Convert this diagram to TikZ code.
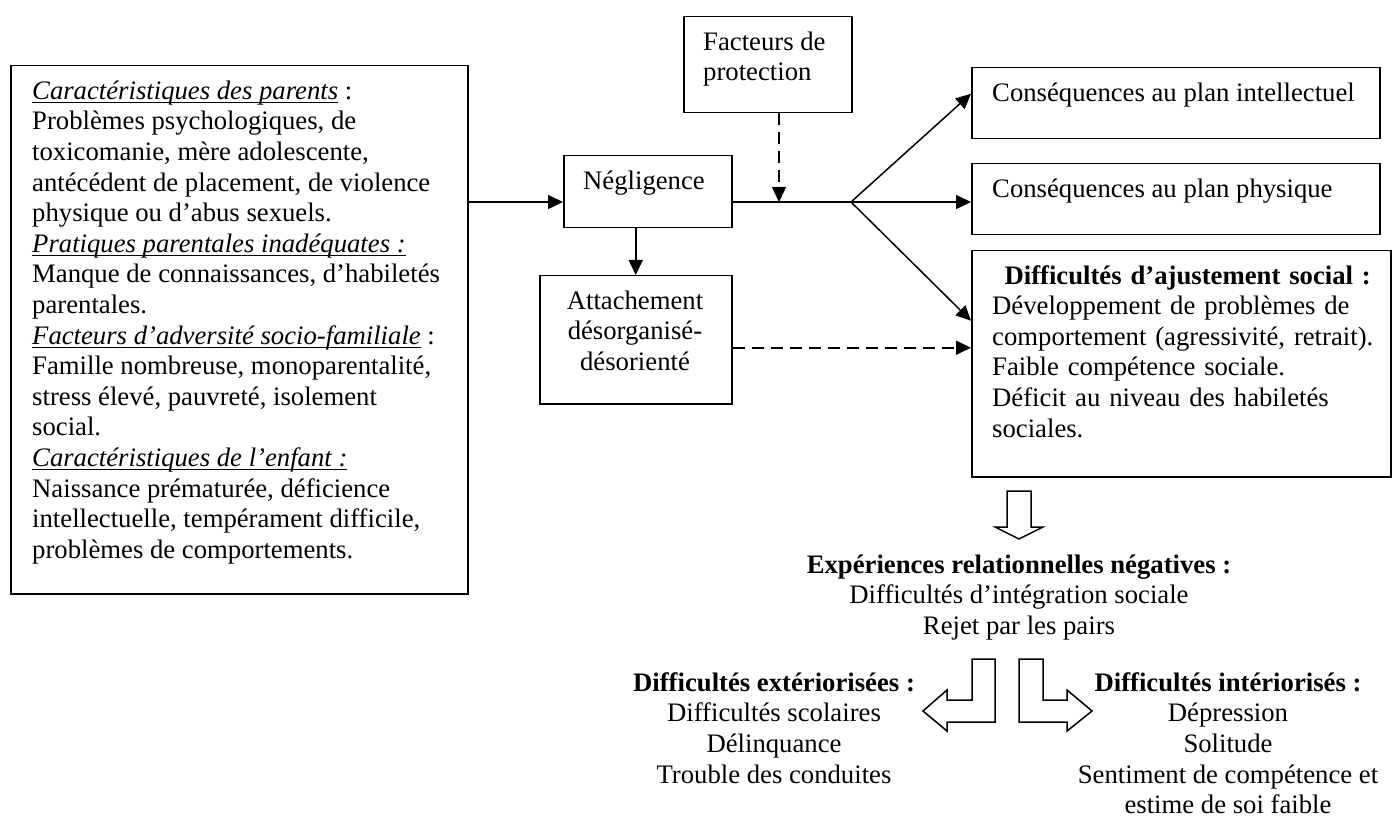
\documentclass[tikz,border=0pt]{standalone}
\usepackage{fontspec}
\setmainfont{Liberation Serif}
\usetikzlibrary{arrows.meta}
\newcommand{\fstrut}{\rule{0pt}{25pt}}
\newsavebox\ulbox
\newcommand{\uln}[1]{\sbox\ulbox{#1}\rlap{\rule[-4pt]{\wd\ulbox}{1.4pt}}\usebox\ulbox}
\begin{document}
\begin{tikzpicture}[x=1pt,y=-1pt,
  font=\fontsize{26.7}{30.6}\selectfont,
  box/.style={draw, line width=1.5pt, inner sep=0pt, anchor=north west},
  txt/.style={inner sep=0pt},
  arr/.style={line width=1.5pt, -{Triangle[length=15pt,width=14pt]}},
  darr/.style={arr, dash pattern=on 12pt off 7pt},
  hollow/.style={draw, line width=1.5pt, fill=white, line join=miter}
]
\useasboundingbox (0,0) rectangle (1392,818);
% boxes
\node[box, minimum width=457pt, minimum height=528pt] (L) at (10,65) {};
\node[box, minimum width=168pt, minimum height=96pt] (F) at (683,16) {};
\node[box, minimum width=168pt, minimum height=72pt] (N) at (563,155) {};
\node[box, minimum width=192pt, minimum height=128pt] (A) at (539,275) {};
\node[box, minimum width=408pt, minimum height=71pt] (C1) at (971,67) {};
\node[box, minimum width=408pt, minimum height=71pt] (C2) at (971,163) {};
\node[box, minimum width=419pt, minimum height=226pt] (S) at (971,250) {};
% texts
\node[txt, anchor=north west, align=left] (Lt) at (32,74) {\fstrut\uln{\textit{Caractéristiques des parents}} :\\
Problèmes psychologiques, de\\
toxicomanie, mère adolescente,\\
antécédent de placement, de violence\\
physique ou d’abus sexuels.\\
\uln{\textit{Pratiques parentales inadéquates :}}\\
Manque de connaissances, d’habiletés\\
parentales.\\
\uln{\textit{Facteurs d’adversité socio-familiale}} :\\
Famille nombreuse, monoparentalité,\\
stress élevé, pauvreté, isolement\\
social.\\
\uln{\textit{Caractéristiques de l’enfant :}}\\
Naissance prématurée, déficience\\
intellectuelle, tempérament difficile,\\
problèmes de comportements.};
\node[txt, anchor=north west, align=left] (Ft) at (703,25) {\fstrut Facteurs de\\protection};
\node[txt, anchor=north west, align=left] (Nt) at (583,164) {\fstrut Négligence};
\node[txt, anchor=north, align=center] (At) at (635,284) {\fstrut Attachement\\désorganisé-\\désorienté};
\node[txt, anchor=north west, align=left] (C1t) at (992,76) {\fstrut Conséquences au plan intellectuel};
\node[txt, anchor=north west, align=left] (C2t) at (992,172) {\fstrut Conséquences au plan physique};
\node[txt, anchor=north west, text width=391pt] (St) at (992,259) {\parindent=0pt
{\centering\fstrut\textbf{Difficultés d’ajustement social :}\par}
Développement de problèmes de\linebreak comportement (agressivité, retrait).\par
Faible compétence sociale.\par
Déficit au niveau des habiletés\linebreak sociales.};
\node[txt, anchor=north, align=center] (E) at (1019,548) {\fstrut\textbf{Expériences relationnelles négatives :}\\Difficultés d’intégration sociale\\Rejet par les pairs};
\node[txt, anchor=north, align=center] (X) at (774,666) {\fstrut\textbf{Difficultés extériorisées :}\\Difficultés scolaires\\Délinquance\\Trouble des conduites};
\node[txt, anchor=north, align=center] (I) at (1228,666) {\fstrut\textbf{Difficultés intériorisés :}\\Dépression\\Solitude\\Sentiment de compétence et\\estime de soi faible};
% connectors
\coordinate (jn) at (851,202);
\coordinate (fp) at (779,202);
\draw[arr] (L.east |- jn) -- (N.west |- jn);
\draw[line width=1.5pt] (N.east |- jn) -- (jn);
\draw[darr] (F.south -| fp) -- (fp);
\draw[arr] (jn) -- ([yshift=9.5pt]C1.west);
\draw[arr] (jn) -- (C2.west |- jn);
\draw[arr] (jn) -- ([yshift=43pt]S.west);
\draw[arr] (A.north |- N.south) -- (A.north);
\draw[darr] ([yshift=-8pt]A.east) -- ([yshift=-8pt]A.east -| S.west);
% hollow block arrows
\draw[hollow] (1007,491) -- (1031,491) -- (1031,527) -- (1043,527) -- (1019,539) -- (995,527) -- (1007,527) -- cycle;
\draw[hollow] (972,659) -- (995,659) -- (995,722) -- (947,722) -- (947,731) -- (923,711) -- (947,690) -- (947,700) -- (972,700) -- cycle;
\draw[hollow] (1019,659) -- (1043,659) -- (1043,700) -- (1067,700) -- (1067,690) -- (1092,711) -- (1067,731) -- (1067,722) -- (1019,722) -- cycle;
\end{tikzpicture}
\end{document}
